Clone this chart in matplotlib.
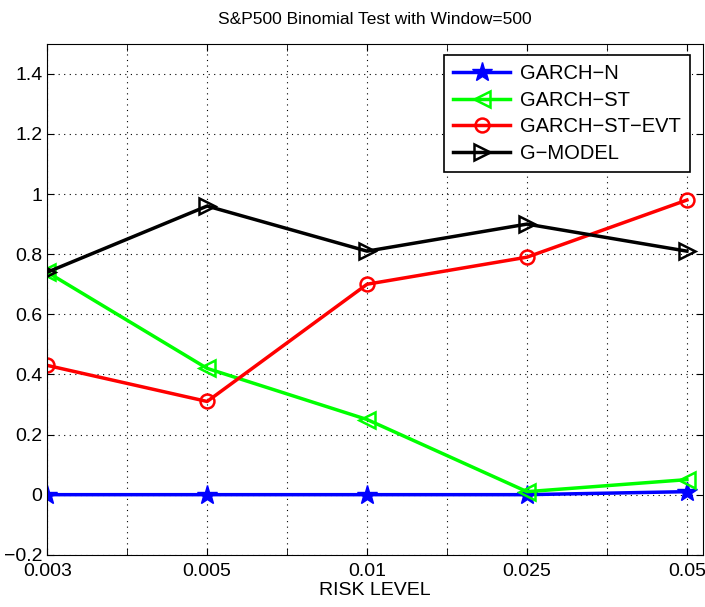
import numpy as np
import matplotlib.pyplot as plt

plt.rcParams['font.family'] = ['Liberation Sans', 'DejaVu Sans']

risk_levels = ['0.003', '0.005', '0.01', '0.025', '0.05']
garch_n = [0, 0, 0, 0, 0.01]
garch_st = [0.74, 0.42, 0.25, 0.01, 0.05]
garch_st_evt = [0.43, 0.31, 0.70, 0.79, 0.98]
g_model = [0.74, 0.96, 0.81, 0.90, 0.81]
y_labels = ['\u22120.2', '0', '0.2', '0.4', '0.6', '0.8', '1', '1.2', '1.4']

x = np.arange(1, len(risk_levels) + 1)

fig = plt.figure(figsize=(7.05, 6.07), dpi=100)
ax = fig.add_axes([0.067, 0.086, 0.93, 0.842])

lw = 2.5
ax.plot(x, garch_n, color='b', lw=lw, marker='*', ms=15, label='GARCH\u2212N')
ax.plot(x, garch_st, color='#00ff00', lw=lw, marker='<', ms=12, mfc='none', mew=1.8, label='GARCH\u2212ST')
ax.plot(x, garch_st_evt, color='r', lw=lw, marker='o', ms=10, mfc='none', mew=1.8, label='GARCH\u2212ST\u2212EVT')
ax.plot(x, g_model, color='k', lw=lw, marker='>', ms=12, mfc='none', mew=1.8, label='G\u2212MODEL')

ax.set_xlim(1, 5.1)
ax.set_ylim(-0.2, 1.5)
ax.set_xticks(x)
ax.set_xticklabels(risk_levels)
ax.set_xticks(x[:-1] + 0.5, minor=True)
ax.set_yticks(np.arange(-0.2, 1.41, 0.2))
ax.set_yticklabels(y_labels)
ax.tick_params(which='both', direction='in', top=True, right=True, labelsize=14, length=5)
ax.tick_params(axis='x', pad=6)
ax.grid(True, which='both', color='k', linestyle=(0, (1, 4)), linewidth=0.8)

ax.set_xlabel('RISK LEVEL', fontsize=14, labelpad=1)
ax.set_title('S&P500 Binomial Test with Window=500', fontsize=12.5, pad=14)

leg = ax.legend(loc='upper right', fontsize=14.5, fancybox=False, edgecolor='k',
                framealpha=1, borderpad=0.45, handlelength=2.8, labelspacing=0.38,
                handletextpad=0.5, borderaxespad=0, bbox_to_anchor=(0.98, 0.978))
leg.get_frame().set_linewidth(1.2)

fig.savefig('out.png')
